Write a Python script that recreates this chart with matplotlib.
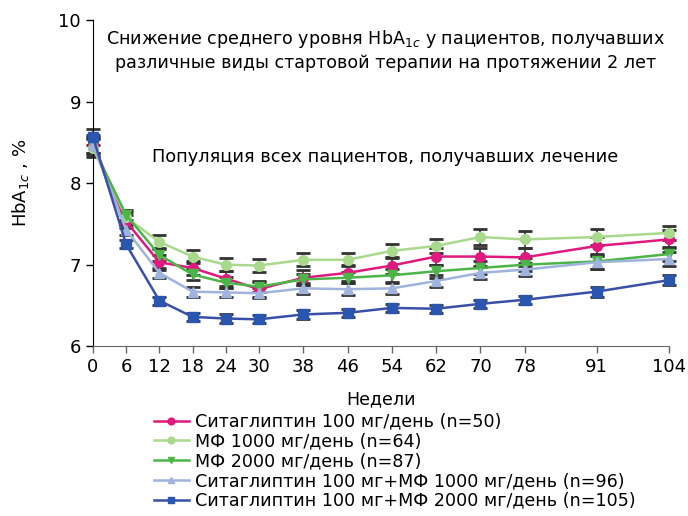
import numpy as np
import matplotlib
matplotlib.use('Agg')
import matplotlib.pyplot as plt

plt.rcParams['font.family'] = ['DejaVu Sans']
plt.rcParams['mathtext.fontset'] = 'dejavusans'

# Weeks of observation
weeks = [0, 6, 12, 18, 24, 30, 38, 46, 54, 62, 70, 78, 91, 104]

# Mean HbA1c (%)
sita100 = [8.48, 7.53, 7.03, 6.96, 6.83, 6.70, 6.84, 6.90, 6.99, 7.10, 7.10, 7.09, 7.23, 7.31]
mf1000 = [8.43, 7.58, 7.28, 7.10, 7.00, 6.99, 7.06, 7.06, 7.17, 7.23, 7.34, 7.31, 7.34, 7.39]
mf2000 = [8.45, 7.61, 7.12, 6.88, 6.78, 6.73, 6.82, 6.84, 6.87, 6.92, 6.96, 7.00, 7.04, 7.13]
sita_mf1000 = [8.47, 7.43, 6.90, 6.67, 6.66, 6.65, 6.71, 6.70, 6.71, 6.80, 6.90, 6.94, 7.03, 7.07]
sita_mf2000 = [8.57, 7.25, 6.56, 6.36, 6.34, 6.33, 6.39, 6.41, 6.47, 6.46, 6.52, 6.57, 6.67, 6.81]

# Standard errors (approximate)
err_sita100 = [0.11, 0.08, 0.09, 0.09, 0.09, 0.09, 0.09, 0.10, 0.10, 0.10, 0.11, 0.11, 0.11, 0.11]
err_mf1000 = [0.11, 0.07, 0.08, 0.08, 0.08, 0.08, 0.08, 0.08, 0.09, 0.09, 0.10, 0.10, 0.10, 0.09]
err_mf2000 = [0.10, 0.06, 0.07, 0.07, 0.07, 0.07, 0.07, 0.07, 0.08, 0.08, 0.08, 0.08, 0.09, 0.09]
err_sita_mf1000 = [0.10, 0.06, 0.06, 0.06, 0.06, 0.06, 0.07, 0.07, 0.07, 0.07, 0.07, 0.08, 0.08, 0.08]
err_sita_mf2000 = [0.10, 0.05, 0.05, 0.05, 0.05, 0.05, 0.05, 0.05, 0.05, 0.05, 0.05, 0.05, 0.06, 0.06]

labels = ['Ситаглиптин 100 мг/день (n=50)',
          'МФ 1000 мг/день (n=64)',
          'МФ 2000 мг/день (n=87)',
          'Ситаглиптин 100 мг+МФ 1000 мг/день (n=96)',
          'Ситаглиптин 100 мг+МФ 2000 мг/день (n=105)']

series = [sita100, mf1000, mf2000, sita_mf1000, sita_mf2000]
errors = [err_sita100, err_mf1000, err_mf2000, err_sita_mf1000, err_sita_mf2000]
colors = ['#e0197f', '#a9d98c', '#4cb548', '#9fb3dc', '#2a56b0']
line_colors = ['#e0197f', '#a9d98c', '#4cb548', '#9fb3dc', '#3a4fa8']
markers = ['o', 'o', 'v', '^', 's']

fig = plt.figure(figsize=(6.88, 5.16), dpi=100)
ax = fig.add_axes([0.135, 0.329, 0.837, 0.632])

handles = []
for vals, err, c, lc, m, lab in zip(series, errors, colors, line_colors, markers, labels):
    # error bars first, in black with caps
    ax.errorbar(weeks, vals, yerr=err, fmt='none', ecolor='#333333', elinewidth=1.2,
                capsize=5, capthick=2, zorder=2, clip_on=False)
    h, = ax.plot(weeks, vals, color=lc, lw=1.8, marker=m, markersize=7,
                 markerfacecolor=c, markeredgecolor=c, zorder=3, clip_on=False, label=lab)
    handles.append(h)

ax.set_xlim(0, 104)
ax.set_ylim(6, 10)
ax.set_xticks(weeks)
ax.set_yticks([6, 7, 8, 9, 10])
ax.tick_params(axis='both', labelsize=13, length=5, width=1)
ax.tick_params(axis='x', colors='#666666', labelcolor='black')
ax.spines['top'].set_visible(False)
ax.spines['right'].set_visible(False)
ax.spines['bottom'].set_color('#666666')
ax.spines['left'].set_color('black')

ax.set_xlabel('Недели', fontsize=12.5, labelpad=10)
ax.set_ylabel('HbA$_{1c}$ , %', fontsize=13, labelpad=20)

ax.text(0.509, 0.975, 'Снижение среднего уровня HbA$_{1c}$ у пациентов, получавших\n'
        'различные виды стартовой терапии на протяжении 2 лет',
        transform=ax.transAxes, ha='center', va='top', fontsize=12.6, linespacing=1.3)
ax.text(0.507, 0.58, 'Популяция всех пациентов, получавших лечение',
        transform=ax.transAxes, ha='center', va='center', fontsize=12.8)

fig.legend(handles=handles, loc='upper left', bbox_to_anchor=(0.211, 0.217),
           frameon=False, fontsize=12.6, labelspacing=0.1, handlelength=2.0,
           handletextpad=0.35, borderpad=0, markerscale=0.7)

plt.savefig('out.png', dpi=100)
